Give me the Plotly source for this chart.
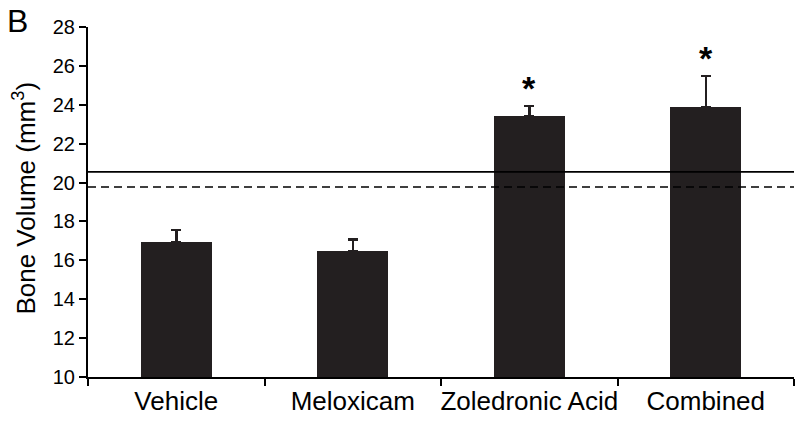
import plotly.graph_objects as go

categories = ["Vehicle", "Meloxicam", "Zoledronic Acid", "Combined"]
means = [16.94, 16.46, 23.43, 23.89]
errors = [0.62, 0.62, 0.51, 1.59]
significant = [False, False, True, True]
solid_ref = 20.55
dashed_ref = 19.77
y_ticks = [10, 12, 14, 16, 18, 20, 22, 24, 26, 28]

x_pos = list(range(len(categories)))
x_span = [-0.5, len(categories) - 0.5]
boundaries = [i - 0.5 for i in range(len(categories) + 1)]

FONT = "Liberation Sans, Arial, sans-serif"
BAR_COLOR = "#231f20"

fig = go.Figure()

fig.add_trace(go.Scatter(x=x_span, y=[solid_ref, solid_ref], mode="lines",
                         line=dict(color="black", width=1.6), showlegend=False, hoverinfo="skip"))
fig.add_trace(go.Scatter(x=x_span, y=[dashed_ref, dashed_ref], mode="lines",
                         line=dict(color="black", width=1.6, dash="8px,5px"), showlegend=False, hoverinfo="skip"))

fig.add_trace(go.Bar(
    x=x_pos, y=[m - 10 for m in means], base=10, width=0.40,
    marker=dict(color=BAR_COLOR, line=dict(width=0)),
    error_y=dict(type="data", symmetric=False, array=errors, arrayminus=[0]*len(errors),
                 color=BAR_COLOR, thickness=2.5, width=5),
    showlegend=False,
))

for i, (m, e, s) in enumerate(zip(means, errors, significant)):
    if s:
        fig.add_annotation(x=i, y=m + e, text="<b>*</b>", showarrow=False, yanchor="bottom",
                           yshift=-3, font=dict(family=FONT, size=34, color="black"))

fig.add_annotation(xref="paper", yref="paper", x=-0.117, y=1.075, xanchor="left", yanchor="top",
                   text="B", showarrow=False, font=dict(family=FONT, size=32, color="black"))

fig.add_annotation(xref="paper", yref="paper", x=-0.09, y=0.511, xanchor="center", yanchor="middle",
                   textangle=-90, text="Bone Volume (mm<sup>3</sup>)", showarrow=False,
                   font=dict(family=FONT, size=26, color="black"))

fig.update_layout(
    width=800, height=422,
    margin=dict(l=88, r=6, t=27, b=45),
    plot_bgcolor="white", paper_bgcolor="white",
    font=dict(family=FONT, color="black"),
    bargap=0,
    xaxis=dict(
        range=x_span, tickmode="array", tickvals=x_pos, ticktext=categories,
        ticks="", tickfont=dict(size=26), showgrid=False, zeroline=False,
        showline=True, linecolor="black", linewidth=2,
        minor=dict(tickmode="array", tickvals=boundaries, ticks="outside", ticklen=7,
                   tickwidth=2, tickcolor="black", showgrid=False),
    ),
    yaxis=dict(
        range=[10, 28], tickmode="array", tickvals=y_ticks,
        ticks="outside", ticklen=7, tickwidth=2, tickcolor="black",
        tickfont=dict(size=20), showgrid=False, zeroline=False,
        showline=True, linecolor="black", linewidth=2,
    ),
)

fig.write_html("out.html", config={"displayModeBar": False},
               post_script="document.body.style.margin='0';document.body.style.overflow='hidden';")
